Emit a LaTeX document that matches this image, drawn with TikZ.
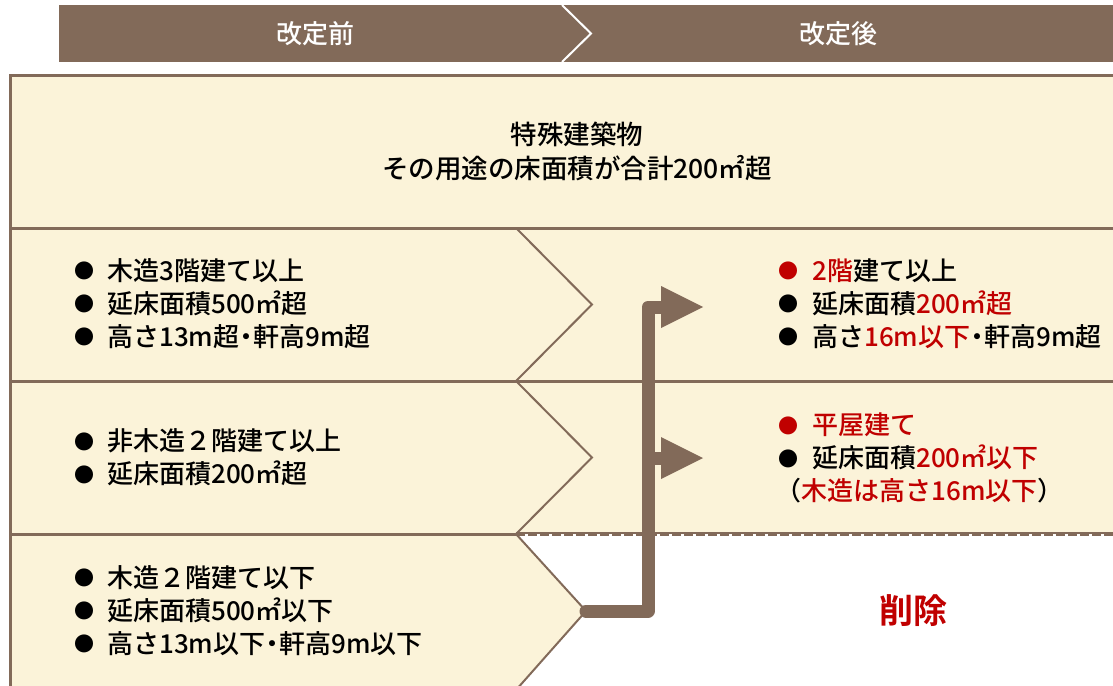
\documentclass[tikz,border=0pt]{standalone}
\usepackage{fontspec}
\setmainfont{Noto Sans CJK JP}[UprightFont={* Medium},BoldFont={* Bold}]
\definecolor{brn}{HTML}{826A59}
\definecolor{crm}{HTML}{FBF3D9}
\definecolor{rd}{HTML}{C00000}
\newcommand\dotbul{\raisebox{1.5pt}{\fontsize{20}{20}\selectfont ●}}
\newcommand\bul{\makebox[25pt][c]{\dotbul}\hspace{10pt}}
\newcommand\bulr{\makebox[25pt][c]{\dotbul}\hspace{11.5pt}}
\newcommand\nakaguro{\makebox[14pt][c]{・}}
\begin{document}
\begin{tikzpicture}[x=1pt,y=-1pt,
  txt/.style={anchor=west,inner sep=0pt,align=left,font=\fontsize{26}{33}\selectfont},
  hdr/.style={inner sep=0pt,text=white,font=\fontsize{26}{28}\selectfont},
  rule/.style={brn,line width=3pt},
  chev/.style={brn,line width=2pt},
  conn/.style={brn,line width=13pt,line join=round,line cap=round},
  tipfill/.style={fill=brn}]
\useasboundingbox (0,0) rectangle (1113,685);
% header
\fill[brn] (59,5) rectangle (1113,62);
\draw[white,line width=2pt] (562,5) -- (591,33.5) -- (562,62);
\node[hdr] (h1) at (315,33.5) {改定前};
\node[hdr] (h2) at (838,33.5) {改定後};
% main panel
\fill[crm] (10,75) -- (1120,75) -- (1120,534) -- (516,534) -- (586,611) -- (516,690) -- (10,690) -- cycle;
\draw[rule] (10,690) -- (10,75) -- (1120,75);
\draw[rule] (10,228) -- (1120,228);
\draw[rule] (10,381) -- (1120,381);
\draw[rule] (10,534) -- (516,534);
\draw[brn,line width=1.5pt] (516,533.2) -- (1120,533.2);
\draw[brn,line width=3pt,dash pattern=on 9pt off 3pt] (516,534) -- (1120,534);
\draw[chev] (516,228) -- (592,304.5) -- (516,381) -- (592,457.5) -- (516,534) -- (586,611) -- (516,690);
% arrows
\coordinate (t4) at (586,611);
\coordinate (j) at (648,611);
\coordinate (a2b) at (662,307);
\coordinate (a2) at (703,307);
\coordinate (a3s) at (648,458);
\coordinate (a3b) at (662,458);
\coordinate (a3) at (703,458);
\draw[conn] (t4) -- (j) -- (j |- a2b) -- (a2b);
\draw[brn,line width=13pt] (a3s) -- (a3b);
\fill[tipfill] (a2) -- ++(-42,-21) -- ++(0,42) -- cycle;
\fill[tipfill] (a3) -- ++(-42,-21) -- ++(0,42) -- cycle;
% texts
\node[anchor=center,inner sep=0pt,align=center,font=\fontsize{26.5}{34}\selectfont] (title) at (577,151)
  {特殊建築物\\その用途の床面積が合計200㎡超};
\node[txt] (l2) at (72,303.5) {\bul 木造3階建て以上\\\bul 延床面積500㎡超\\\bul 高さ13m超\nakaguro 軒高9m超};
\node[txt] (l3) at (72,457.5) {\bul 非木造２階建て以上\\\bul 延床面積200㎡超};
\node[txt] (l4) at (72,610.5) {\bul 木造２階建て以下\\\bul 延床面積500㎡以下\\\bul 高さ13m以下\nakaguro 軒高9m以下};
\node[txt] (r2) at (775.5,303.5) {\textcolor{rd}{\bulr 2階}建て以上\\\bulr 延床面積\textcolor{rd}{200㎡超}\\\bulr 高さ\textcolor{rd}{16m以下}\nakaguro 軒高9m超};
\node[txt] (r3) at (775.5,458) {\textcolor{rd}{\bulr 平屋建て}\\\bulr 延床面積\textcolor{rd}{200㎡以下}\\（\textcolor{rd}{木造は高さ16m以下}）};
\node[inner sep=0pt,text=rd,font=\fontsize{34}{38}\selectfont\bfseries] (del) at (913,611) {削除};
\end{tikzpicture}
\end{document}
